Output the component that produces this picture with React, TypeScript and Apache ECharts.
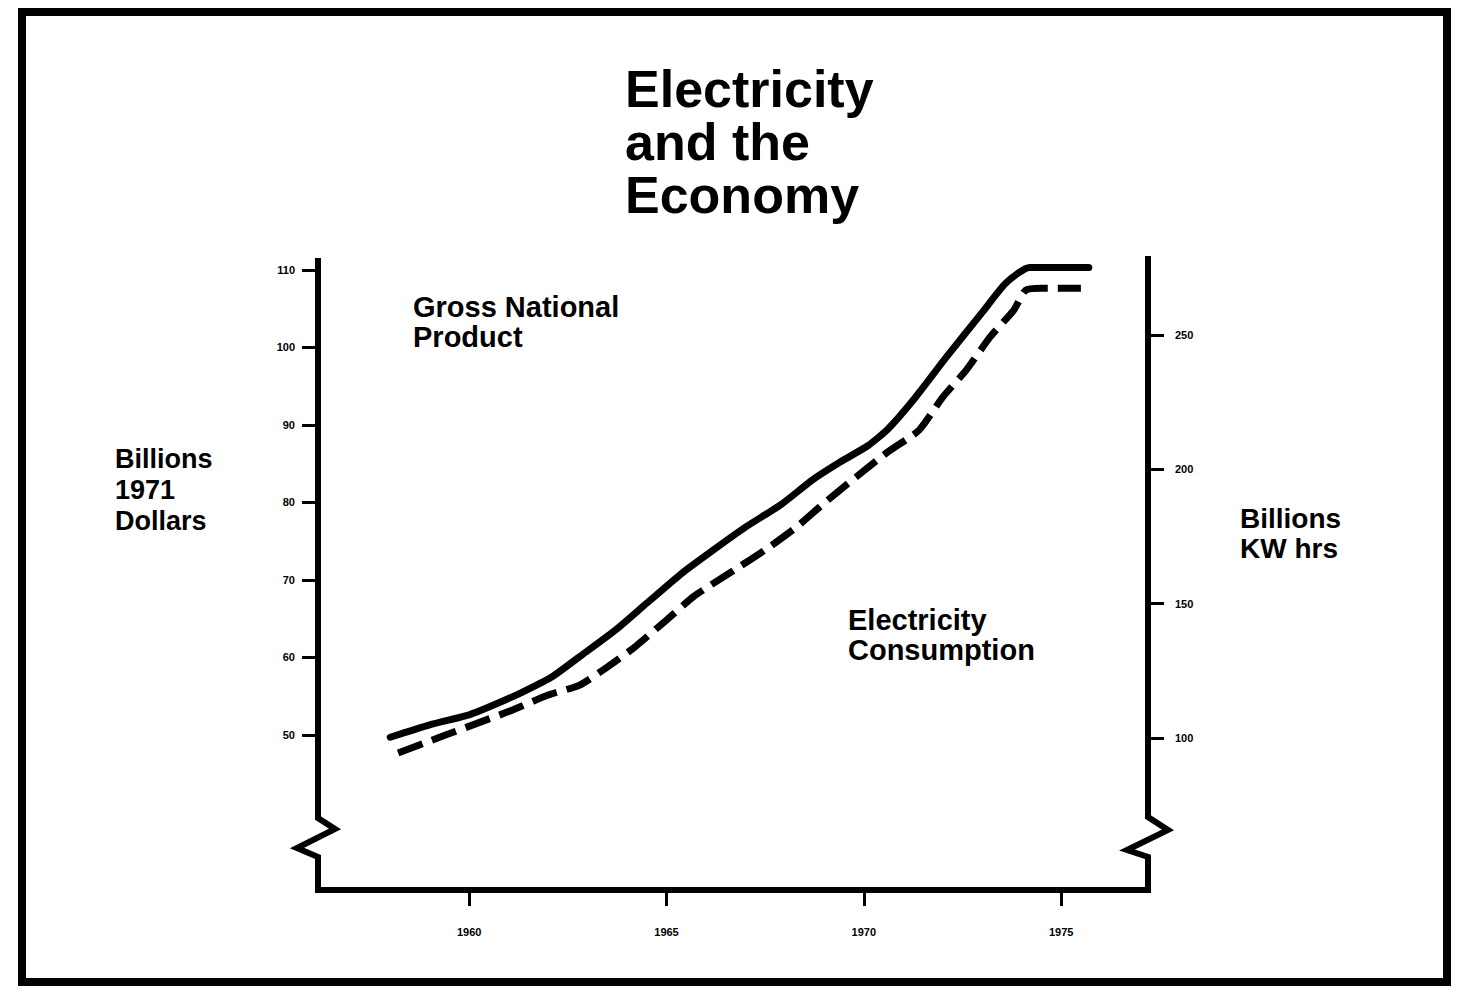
import { useEffect, useRef } from "react";
import * as echarts from "echarts";

// Gross National Product (billions of 1971 dollars) – left axis
const gnpYears = [1958.0, 1959.0, 1960.0, 1960.5, 1961.3, 1962.1, 1962.8, 1963.7, 1964.5, 1965.4, 1966.2, 1967.0, 1967.9, 1968.7, 1969.4, 1970.1, 1970.6, 1971.3, 1972.1, 1973.0, 1973.6, 1974.2, 1975.7];
const gnpValues = [49.7, 51.3, 52.6, 53.6, 55.4, 57.5, 60.1, 63.5, 67.0, 70.9, 73.9, 76.8, 79.7, 82.9, 85.2, 87.3, 89.4, 93.5, 98.8, 104.5, 108.3, 110.3, 110.3];

// Electricity consumption (billions KW hrs) – right axis
const elecYears = [1958.2, 1959.4, 1960.3, 1961.1, 1962.0, 1962.8, 1963.5, 1964.2, 1965.0, 1965.7, 1966.6, 1967.5, 1968.3, 1969.0, 1969.8, 1970.6, 1971.4, 1972.0, 1972.6, 1973.2, 1973.8, 1974.1, 1974.5, 1975.5];
const elecValues = [94.4, 101.1, 106.0, 110.4, 116.0, 119.7, 126.4, 133.9, 143.9, 152.8, 161.4, 170.0, 178.6, 187.5, 197.1, 206.4, 214.6, 226.9, 237.0, 249.3, 259.3, 266.7, 267.4, 267.4];

const yearTicks = [1960, 1965, 1970, 1975];
const leftTicks = [50, 60, 70, 80, 90, 100, 110];
const rightTicks = [100, 150, 200, 250];

const W = 1458;
const H = 994;
const GL = 318;
const GR = 1148;
const GT = 262;
const GB = 890;
const FONT = '"Liberation Sans", Arial, sans-serif';

export default function App() {
  const ref = useRef<HTMLDivElement>(null);

  useEffect(() => {
    if (!ref.current) return;
    const chart = echarts.init(ref.current, undefined, { renderer: "svg" });

    const tickLabel = { color: "#000", fontFamily: FONT, fontWeight: "bold" as const, fontSize: 11 };

    // multi-line text block; y is the vertical centre of the first line
    const text = (t: string, x: number, y: number, size: number, lh: number) => ({
      type: "text",
      z: 10,
      style: {
        text: t,
        x,
        y: y - lh / 2,
        fill: "#000",
        font: `bold ${size}px ${FONT}`,
        lineHeight: lh,
        textAlign: "left",
        textVerticalAlign: "top",
      },
    });

    chart.setOption({
      animation: false,
      backgroundColor: "#fff",
      grid: { left: GL, right: W - GR, top: GT, bottom: H - GB, containLabel: false },
      xAxis: {
        type: "value",
        min: 1956.17,
        max: 1977.2,
        axisLine: { show: false },
        splitLine: { show: false },
        axisTick: { show: true, customValues: yearTicks, length: 16, lineStyle: { color: "#000", width: 3 } },
        axisLabel: { ...tickLabel, customValues: yearTicks, margin: 36, formatter: (v: number) => String(v) },
      },
      yAxis: [
        {
          type: "value",
          min: 30,
          max: 111,
          position: "left",
          axisLine: { show: false },
          splitLine: { show: false },
          axisTick: { show: true, customValues: leftTicks, length: 16, lineStyle: { color: "#000", width: 3 } },
          axisLabel: { ...tickLabel, customValues: leftTicks, margin: 23 },
        },
        {
          type: "value",
          min: 43.43,
          max: 277.17,
          position: "right",
          axisLine: { show: false },
          splitLine: { show: false },
          axisTick: { show: true, customValues: rightTicks, length: 16, lineStyle: { color: "#000", width: 3 } },
          axisLabel: { ...tickLabel, customValues: rightTicks, margin: 27 },
        },
      ],
      series: [
        {
          name: "Gross National Product",
          type: "line",
          yAxisIndex: 0,
          showSymbol: false,
          symbol: "none",
          smooth: 0.2,
          data: gnpYears.map((y, i) => [y, gnpValues[i]]),
          lineStyle: { color: "#000", width: 7, cap: "round", join: "round" },
        },
        {
          name: "Electricity Consumption",
          type: "line",
          yAxisIndex: 1,
          showSymbol: false,
          symbol: "none",
          smooth: 0.2,
          data: elecYears.map((y, i) => [y, elecValues[i]]),
          lineStyle: { color: "#000", width: 7, type: [26, 10], cap: "butt" },
        },
      ],
      graphic: [
        {
          type: "rect",
          shape: { x: 22, y: 12, width: 1425, height: 970 },
          style: { fill: "none", stroke: "#000", lineWidth: 8 },
        },
        {
          type: "polyline",
          z: 5,
          shape: {
            points: [
              [GL, GT - 4], [GL, 818], [GL + 17, 829], [GL - 21, 848], [GL, 857], [GL, GB],
              [GR, GB], [GR, 857], [GR - 21, 850], [GR + 20, 830], [GR, 817], [GR, GT - 6],
            ],
          },
          style: { fill: "none", stroke: "#000", lineWidth: 6, lineJoin: "miter" },
        },
        text("Electricity\nand the\nEconomy", 625, 89, 52, 53),
        text("Gross National\nProduct", 413, 307, 29, 30),
        text("Electricity\nConsumption", 848, 620, 29, 30),
        text("Billions\n1971\nDollars", 115, 459, 27, 31),
        text("Billions\nKW hrs", 1240, 518, 28, 30),
      ],
    });

    return () => chart.dispose();
  }, []);

  return <div ref={ref} style={{ position: "absolute", left: 0, top: 0, width: W, height: H }} />;
}
